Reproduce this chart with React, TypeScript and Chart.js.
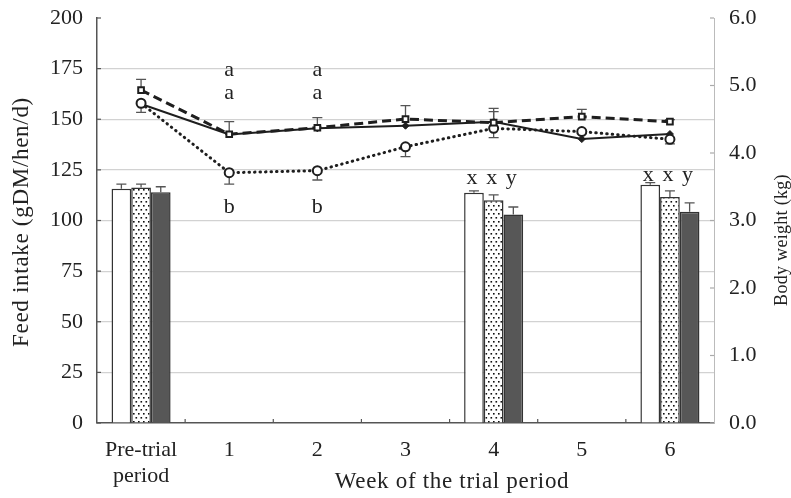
import React, { useEffect, useRef } from 'react';
import { Chart, registerables } from 'chart.js';

Chart.register(...registerables);

// ---------- data ----------
const categories: (string | string[])[] = [['Pre-trial', 'period'], '1', '2', '3', '4', '5', '6'];

// Feed intake (left axis, gDM/hen/d) – lines
const feedSolid = [157.5, 142.5, 145.5, 146.8, 148.8, 140.2, 142.7];
const feedSolidErr = [0, 0, 0, 0, 5, 0, 0];
const feedDashed = [164.4, 142.6, 145.8, 150.1, 148.3, 151.3, 148.8];
const feedDashedErr = [5.3, 6.2, 5.0, 6.6, 7.1, 3.6, 1.0];
const feedDotted = [157.9, 123.6, 124.6, 136.4, 145.5, 143.9, 140.1];
const feedDottedErr = [4.5, 5.6, 4.6, 4.9, 4.6, 1.0, 2.3];

// Body weight (right axis, kg) – bars
const bwWhite = [3.47, null, null, null, 3.41, null, 3.53];
const bwWhiteErr = [0.07, 0, 0, 0, 0.03, 0, 0.03];
const bwDotted = [3.49, null, null, null, 3.30, null, 3.35];
const bwDottedErr = [0.05, 0, 0, 0, 0.08, 0, 0.09];
const bwDark = [3.42, null, null, null, 3.09, null, 3.13];
const bwDarkErr = [0.08, 0, 0, 0, 0.11, 0, 0.13];

// Tick labels
const rightTickLabels = ['0.0', '1.0', '2.0', '3.0', '4.0', '5.0', '6.0'];

// Significance letters
const feedLetterText = ['a', 'a', 'b', 'a', 'a', 'b'];
const feedLetterCat = [1, 1, 1, 2, 2, 2];
const feedLetterValue = [174.3, 162.8, 106.8, 174.3, 162.8, 106.8];

const bwLetterText = ['x', 'x', 'y', 'x', 'x', 'y'];
const bwLetterCat = [4, 4, 4, 6, 6, 6];
const bwLetterBar = [0, 1, 2, 0, 1, 2];
const bwLetterValue = [3.63, 3.63, 3.63, 3.67, 3.67, 3.67];

const leftTitle = 'Feed intake (gDM/hen/d)';
const rightTitle = 'Body weight (kg)';
const xTitle = 'Week of the trial period';

// ---------- styles ----------
const FONT = '"Liberation Serif", "Times New Roman", serif';
const TEXT = '#222';
const LINE = '#1e1e1e';
const BAR_START = 3;

function makeDots(): CanvasPattern | string {
  const c = document.createElement('canvas');
  c.width = 5;
  c.height = 8;
  const g = c.getContext('2d');
  if (!g) return '#ccc';
  g.fillStyle = '#ffffff';
  g.fillRect(0, 0, 5, 8);
  g.fillStyle = '#111';
  g.fillRect(0.5, 1, 1.6, 1.6);
  g.fillRect(3, 5, 1.6, 1.6);
  return g.createPattern(c, 'repeat') || '#ccc';
}

function drawErr(chart: any, meta: any, ds: any, scale: any) {
  const ctx = chart.ctx;
  ctx.save();
  ctx.strokeStyle = '#555';
  ctx.lineWidth = 1.3;
  ds.data.forEach((v: number | null, i: number) => {
    const e = ds.errors[i];
    if (v == null || !e) return;
    const el = meta.data[i];
    if (!el) return;
    const x = el.x;
    const y0 = scale.getPixelForValue(v);
    const y1 = scale.getPixelForValue(v + ds.errDir * e);
    ctx.beginPath();
    ctx.moveTo(x, y0);
    ctx.lineTo(x, y1);
    ctx.moveTo(x - 5, y1);
    ctx.lineTo(x + 5, y1);
    ctx.stroke();
  });
  ctx.restore();
}

const errorPlugin = {
  id: 'errorBars',
  beforeDatasetDraw(chart: any, args: any) {
    const ds = chart.data.datasets[args.index];
    if (ds.type !== 'line' || !ds.errors) return;
    drawErr(chart, args.meta, ds, chart.scales.y);
  },
  afterDatasetDraw(chart: any, args: any) {
    const ds = chart.data.datasets[args.index];
    if (ds.type !== 'bar' || !ds.errors) return;
    drawErr(chart, args.meta, ds, chart.scales.y1);
  },
};

const decorPlugin = {
  id: 'decor',
  afterDraw(chart: any) {
    const ctx = chart.ctx;
    const { x, y, y1 } = chart.scales;
    ctx.save();
    // inner ticks
    ctx.lineWidth = 1.2;
    ctx.strokeStyle = '#555';
    y.ticks.forEach((t: any) => {
      const py = y.getPixelForValue(t.value);
      ctx.beginPath();
      ctx.moveTo(y.right, py);
      ctx.lineTo(y.right + 4, py);
      ctx.stroke();
    });
    for (let i = 1; i < categories.length; i++) {
      const px = (x.getPixelForValue(i - 1) + x.getPixelForValue(i)) / 2;
      ctx.beginPath();
      ctx.moveTo(px, x.top);
      ctx.lineTo(px, x.top - 4);
      ctx.stroke();
    }
    ctx.strokeStyle = '#aaa';
    y1.ticks.forEach((t: any) => {
      const py = y1.getPixelForValue(t.value);
      ctx.beginPath();
      ctx.moveTo(y1.left, py);
      ctx.lineTo(y1.left - 4, py);
      ctx.stroke();
    });

    // letters
    ctx.fillStyle = TEXT;
    ctx.font = `22px ${FONT}`;
    ctx.textAlign = 'center';
    ctx.textBaseline = 'middle';
    feedLetterText.forEach((t, i) => {
      ctx.fillText(t, x.getPixelForValue(feedLetterCat[i]), y.getPixelForValue(feedLetterValue[i]));
    });
    bwLetterText.forEach((t, i) => {
      const meta = chart.getDatasetMeta(BAR_START + bwLetterBar[i]);
      const el = meta.data[bwLetterCat[i]];
      ctx.fillText(t, el.x - 2, y1.getPixelForValue(bwLetterValue[i]));
    });

    // titles
    (ctx as any).letterSpacing = '0.7px';
    ctx.font = `23px ${FONT}`;
    ctx.fillText(xTitle, 452, 482);
    ctx.save();
    ctx.translate(22, 222);
    ctx.rotate(-Math.PI / 2);
    ctx.fillText(leftTitle, 0, 0);
    ctx.restore();
    (ctx as any).letterSpacing = '0.3px';
    ctx.font = `18px ${FONT}`;
    ctx.save();
    ctx.translate(782, 240);
    ctx.rotate(-Math.PI / 2);
    ctx.fillText(rightTitle, 0, 0);
    ctx.restore();
    (ctx as any).letterSpacing = '0px';
    ctx.restore();
  },
};

export default function App() {
  const ref = useRef<HTMLCanvasElement | null>(null);

  useEffect(() => {
    if (!ref.current) return;
    const dots = makeDots();
    const barCommon = {
      type: 'bar',
      errDir: 1,
      yAxisID: 'y1',
      borderColor: '#333',
      borderWidth: 1.5,
      categoryPercentage: 0.67,
      barPercentage: 1,
    };
    const chart = new Chart(ref.current, {
      data: {
        labels: categories as any,
        datasets: [
          {
            type: 'line',
            data: feedDashed,
            errors: feedDashedErr,
            errDir: 1,
            yAxisID: 'y',
            borderColor: LINE,
            borderWidth: 3,
            borderDash: [9, 5],
            pointStyle: 'rect',
            pointRadius: 4,
            pointBackgroundColor: '#fff',
            pointBorderColor: LINE,
            pointBorderWidth: 2,
          } as any,
          {
            type: 'line',
            data: feedDotted,
            errors: feedDottedErr,
            errDir: -1,
            yAxisID: 'y',
            borderColor: LINE,
            borderWidth: 3,
            borderDash: [0.5, 5],
            borderCapStyle: 'round',
            pointStyle: 'circle',
            pointRadius: 4.5,
            pointBackgroundColor: '#fff',
            pointBorderColor: LINE,
            pointBorderWidth: 2,
          } as any,
          {
            type: 'line',
            data: feedSolid,
            errors: feedSolidErr,
            errDir: 1,
            yAxisID: 'y',
            borderColor: LINE,
            borderWidth: 2,
            pointStyle: 'rectRot',
            pointRadius: 3.5,
            pointBackgroundColor: LINE,
            pointBorderColor: LINE,
            pointBorderWidth: 1,
          } as any,
          { ...barCommon, data: bwWhite, errors: bwWhiteErr, backgroundColor: '#ffffff' } as any,
          { ...barCommon, data: bwDotted, errors: bwDottedErr, backgroundColor: dots } as any,
          { ...barCommon, data: bwDark, errors: bwDarkErr, backgroundColor: '#575757' } as any,
        ],
      },
      options: {
        responsive: false,
        animation: false,
        layout: { padding: { top: 18, left: 0, right: 0, bottom: 0 } },
        plugins: {
          legend: { display: false },
          tooltip: { enabled: false },
        },
        scales: {
          x: {
            type: 'category',
            grid: { display: false, drawTicks: false },
            border: { color: '#555', width: 1.5 },
            ticks: {
              font: { family: FONT, size: 22 },
              color: TEXT,
              padding: 14,
              maxRotation: 0,
              autoSkip: false,
            },
            afterFit: (s: any) => {
              s.height = 75;
              s.paddingLeft = 0;
              s.paddingRight = 0;
            },
          },
          y: {
            position: 'left',
            min: 0,
            max: 200,
            grid: {
              drawTicks: false,
              lineWidth: 1.2,
              color: (c: any) =>
                c.tick && (c.tick.value === 200 || c.tick.value === 0) ? 'rgba(0,0,0,0)' : '#d2d2d2',
            },
            border: { color: '#555', width: 1.5 },
            ticks: {
              stepSize: 25,
              font: { family: FONT, size: 22 },
              color: TEXT,
              padding: 14,
            },
            afterFit: (s: any) => {
              s.width = 97;
              s.paddingTop = 0;
              s.paddingBottom = 0;
            },
          },
          y1: {
            position: 'right',
            min: 0,
            max: 6,
            grid: { drawOnChartArea: false, drawTicks: false },
            border: { color: '#bbb', width: 1 },
            ticks: {
              stepSize: 1,
              font: { family: FONT, size: 22 },
              color: TEXT,
              padding: 15,
              callback: (v: any) => rightTickLabels[Math.round(Number(v))] ?? '',
            },
            afterFit: (s: any) => {
              s.width = 77;
              s.paddingTop = 0;
              s.paddingBottom = 0;
            },
          },
        },
      } as any,
      plugins: [errorPlugin, decorPlugin],
    });
    return () => chart.destroy();
  }, []);

  return (
    <div style={{ position: 'fixed', left: 0, top: 0, width: 791, height: 498, background: '#fff' }}>
      <canvas ref={ref} width={791} height={498} style={{ display: 'block' }} />
    </div>
  );
}
